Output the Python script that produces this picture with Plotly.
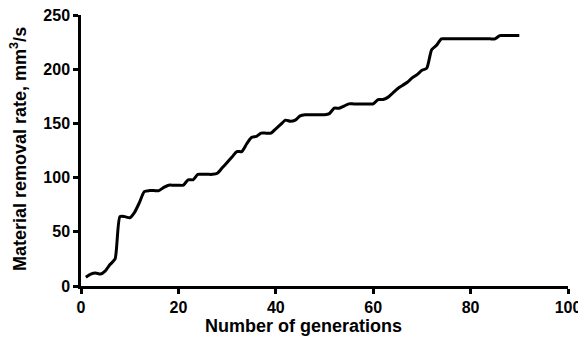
import plotly.graph_objects as go

generations = list(range(1, 91))
removal_rate = [
    8, 11, 12, 11, 14, 20, 25, 64, 64, 63,
    68, 77, 87, 88, 88, 88, 91, 93, 93, 93,
    93, 98, 98, 103, 103, 103, 103, 104, 109, 114,
    119, 124, 124, 131, 137, 138, 141, 141, 141, 145,
    149, 153, 152, 153, 157, 158, 158, 158, 158, 158,
    159, 164, 164, 166, 168, 168, 168, 168, 168, 168,
    172, 172, 174, 178, 182, 185, 188, 192, 195, 199,
    201, 218, 222, 228, 228, 228, 228, 228, 228, 228,
    228, 228, 228, 228, 228, 231, 231, 231, 231, 231,
]
x_ticks = [0, 20, 40, 60, 80, 100]
y_ticks = [0, 50, 100, 150, 200, 250]
x_title = "Number of generations"
y_title = "Material removal rate, mm<sup>3</sup>/s"

font_family = "'Liberation Sans', Arial, sans-serif"

# page body has an 8px default margin; compensate so plot area lands at (81..568, 15..286)
OFF = 8
L, R, T, B = 81 - OFF, 18, 15 - OFF, 58
W, H = 586 - OFF, 344 - OFF
PW, PH = W - L - R, H - T - B

fig = go.Figure(
    go.Scatter(
        x=generations,
        y=removal_rate,
        mode="lines",
        line=dict(color="black", width=3, shape="spline", smoothing=0.6),
        showlegend=False,
    )
)

axis_common = dict(
    showline=True,
    linecolor="black",
    linewidth=2.5,
    ticks="outside",
    tickcolor="black",
    tickwidth=2.5,
    ticklen=5,
    showgrid=False,
    zeroline=False,
    automargin=False,
    ticklabeloverflow="allow",
    tickfont=dict(family=font_family, size=16, color="black"),
)

fig.update_layout(
    width=W,
    height=H,
    margin=dict(l=L, r=R, t=T, b=B),
    paper_bgcolor="white",
    plot_bgcolor="white",
    xaxis=dict(range=[0, 100], tickvals=x_ticks,
               ticktext=["<b>%d</b>" % v for v in x_ticks], **axis_common),
    yaxis=dict(range=[0, 250], tickvals=y_ticks,
               ticktext=["<b>%d</b>" % v for v in y_ticks], **axis_common),
    annotations=[
        dict(
            text="<b>" + x_title + "</b>",
            xref="paper", yref="paper",
            x=(303 - 81) / PW, y=-(326 - 286) / PH,
            xanchor="center", yanchor="middle",
            showarrow=False,
            font=dict(family=font_family, size=18, color="black"),
        ),
        dict(
            text="<b>" + y_title + "</b>",
            xref="paper", yref="paper",
            x=-(81 - 18) / PW, y=(286 - 149) / PH,
            xanchor="center", yanchor="middle",
            textangle=-90,
            showarrow=False,
            font=dict(family=font_family, size=18, color="black"),
        ),
    ],
)

fig.write_html("out.html")
